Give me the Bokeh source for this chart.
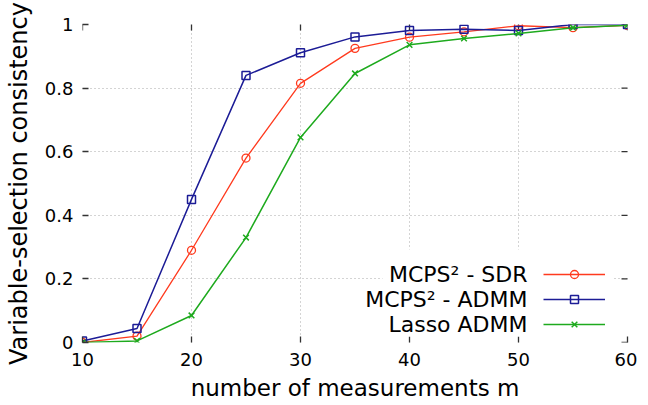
import math
from bokeh.plotting import figure
from bokeh.models import (FixedTicker, Legend, LegendItem, Label, BoxAnnotation, Range1d)
from bokeh.embed import file_html
from bokeh.resources import INLINE

m = [10, 15, 20, 25, 30, 35, 40, 45, 50, 55, 60]
sdr = [0.0, 0.02, 0.29, 0.58, 0.815, 0.925, 0.96, 0.977, 0.996, 0.99, 0.997]
admm = [0.005, 0.044, 0.45, 0.84, 0.911, 0.961, 0.981, 0.985, 0.981, 1.0, 1.0]
lasso = [0.0, 0.005, 0.085, 0.33, 0.645, 0.846, 0.936, 0.956, 0.972, 0.99, 0.998]

series_names = ["MCPS\u00b2 - SDR", "MCPS\u00b2 - ADMM", "Lasso ADMM"]
x_ticks = [10, 20, 30, 40, 50, 60]
y_ticks = [0, 0.2, 0.4, 0.6, 0.8, 1]
y_tick_labels = ["0", "0.2", "0.4", "0.6", "0.8", "1"]
x_label = "number of measurements m"
y_label = "Variable-selection consistency"

RED = "#ff3a1e"
BLUE = "#1c1c96"
GREEN = "#1eaa1e"
FONT = "DejaVu Sans"
TICK_COLOR = "#333333"

x_min, x_max = x_ticks[0], x_ticks[-1]
y_min, y_max = y_ticks[0], y_ticks[-1]

p = figure(frame_width=545, frame_height=318, output_backend="svg",
           toolbar_location=None,
           x_range=Range1d(x_min, x_max), y_range=Range1d(y_min, y_max),
           min_border_left=82, min_border_right=10, min_border_top=24,
           min_border_bottom=54)
p.outline_line_color = None
p.background_fill_color = "white"
p.border_fill_color = "white"

for ax, ticks in ((p.xaxis[0], x_ticks), (p.yaxis[0], y_ticks)):
    ax.ticker = FixedTicker(ticks=ticks)
    ax.axis_line_color = None
    ax.major_tick_in = 6
    ax.major_tick_out = 0
    ax.minor_tick_line_color = None
    ax.major_tick_line_color = TICK_COLOR
    ax.major_tick_line_width = 1.3
    ax.major_label_text_font = FONT
    ax.major_label_text_font_size = "18px"
    ax.major_label_text_color = "black"
    ax.axis_label_text_font = FONT
    ax.axis_label_text_font_size = "23px"
    ax.axis_label_text_font_style = "normal"
    ax.axis_label_text_color = "black"

p.yaxis[0].axis_label_text_font_size = "24px"
p.yaxis[0].major_label_overrides = {t: l for t, l in zip(y_ticks, y_tick_labels)}
p.xaxis[0].axis_label = x_label
p.yaxis[0].axis_label = y_label
p.xaxis[0].major_label_standoff = 10
p.xaxis[0].axis_label_standoff = 6
p.yaxis[0].major_label_standoff = 9
p.yaxis[0].axis_label_standoff = 9

for g in p.grid:
    g.grid_line_color = "#a8a8a8"
    g.grid_line_dash = "1 3"
    g.grid_line_width = 1
p.xgrid.ticker = FixedTicker(ticks=x_ticks)
p.ygrid.ticker = FixedTicker(ticks=y_ticks)

# mirrored inward ticks on the top and right edges (half of each dash is clipped)
p.scatter(x_ticks, [y_max] * len(x_ticks), marker="dash", angle=math.pi / 2,
          size=12, line_color=TICK_COLOR, line_width=1.3)
p.scatter([x_max] * len(y_ticks), y_ticks, marker="dash",
          size=12, line_color=TICK_COLOR, line_width=1.3)

r1 = p.line(m, sdr, line_color=RED, line_width=1.3)
s1 = p.scatter(m, sdr, marker="circle", size=8, line_color=RED, fill_color=None, line_width=1.3)
r2 = p.line(m, admm, line_color=BLUE, line_width=1.5)
s2 = p.scatter(m, admm, marker="square", size=8, line_color=BLUE, fill_color=None, line_width=1.5)
r3 = p.line(m, lasso, line_color=GREEN, line_width=1.5)
s3 = p.scatter(m, lasso, marker="x", size=8, line_color=GREEN, line_width=1.5)

bg = BoxAnnotation(left=300, right=530, bottom=6, top=93,
                   left_units="screen", right_units="screen",
                   bottom_units="screen", top_units="screen",
                   fill_color="white", fill_alpha=1.0, line_color=None)
p.add_layout(bg)

# legend samples (line + marker); names are drawn to their left as labels
legend = Legend(items=[LegendItem(label=" ", renderers=[r1, s1]),
                       LegendItem(label=" ", renderers=[r2, s2]),
                       LegendItem(label=" ", renderers=[r3, s3])],
                location=(461, 8), glyph_width=62, glyph_height=20,
                label_height=20, spacing=5, padding=0, margin=0,
                label_standoff=0, background_fill_alpha=0,
                border_line_color=None, label_text_font_size="10px")
p.add_layout(legend, "center")

for name, yy in zip(series_names, [68, 43, 18]):
    p.add_layout(Label(x=445, y=yy, x_units="screen", y_units="screen",
                       text=name, text_align="right", text_baseline="middle",
                       text_font=FONT, text_font_size="22px", text_color="black"))

open("out.html", "w").write(file_html(p, INLINE))
